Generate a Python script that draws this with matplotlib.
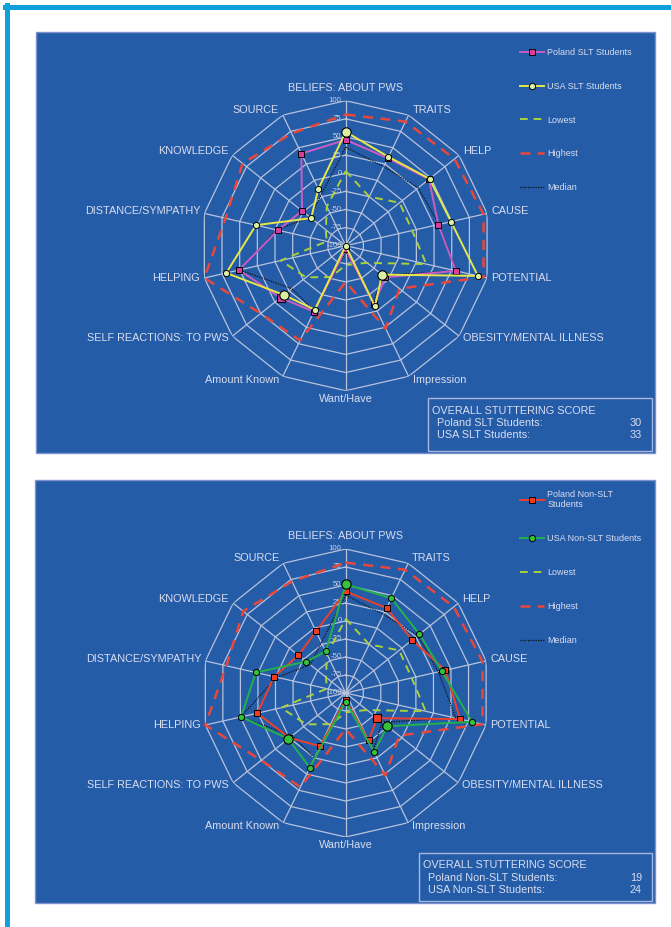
import numpy as np
import matplotlib
matplotlib.use("Agg")
import matplotlib.pyplot as plt
from matplotlib.lines import Line2D
from matplotlib.patches import Rectangle

plt.rcParams["font.family"] = ["Liberation Sans", "DejaVu Sans"]

# ---------------- data ----------------
axis_labels = ["BELIEFS: ABOUT PWS", "TRAITS", "HELP", "CAUSE", "POTENTIAL",
               "OBESITY/MENTAL ILLNESS", "Impression", "Want/Have", "Amount Known",
               "SELF REACTIONS: TO PWS", "HELPING", "DISTANCE/SYMPATHY",
               "KNOWLEDGE", "SOURCE"]
ring_ticks = [-100, -75, -50, -25, 0, 25, 50, 75, 100]

lowest = [3, -25, -5, -6, 14, -62, -72, -73, -52, -30, -8, -73, -65, -40]
highest = [81, 90, 92, 95, 95, -5, 27, -50, 45, 50, 100, 70, 82, 72]
median = [36, 21, 28, 32, 57, -35, -12, -92, 0, -5, 50, -2, -37, -22]

poland_slt = [46, 34, 47, 31, 56, -30, -10, -95, 1, 15, 51, -4, -23, 41]
usa_slt = [57, 36, 48, 49, 87, -36, -7, -100, -2, 9, 69, 27, -39, -13]
poland_non = [41, 31, 18, 42, 63, -44, -27, -90, -18, 0, 26, 2, -16, -5]
usa_non = [51, 46, 31, 37, 80, -26, -9, -88, 15, 2, 49, 28, -30, -36]

score_title = "OVERALL STUTTERING SCORE"
score_names_slt = ["Poland SLT Students:", "USA SLT Students:"]
score_values_slt = [30, 33]
score_names_non = ["Poland Non-SLT Students:", "USA Non-SLT Students:"]
score_values_non = [19, 24]

legend_slt = ["Poland SLT Students", "USA SLT Students", "Lowest", "Highest", "Median"]
legend_non = ["Poland Non-SLT\nStudents", "USA Non-SLT Students", "Lowest", "Highest", "Median"]

# ---------------- style ----------------
W, H = 671, 927
BLUE = "#245ca8"
TXT = "#d9ddef"
GRID = "#b9c3dc"
CYAN = "#12a0dc"

fig = plt.figure(figsize=(W / 100, H / 100), dpi=100)
fig.patch.set_facecolor("white")


def fx(px):
    return px / W


def fy(py):
    return 1 - py / H


# outer cyan frame (top and left)
fig.add_artist(Line2D([fx(5), 1], [fy(7), fy(7)], color=CYAN, lw=3.6, transform=fig.transFigure))
fig.add_artist(Line2D([fx(7), fx(7)], [fy(5), 0], color=CYAN, lw=3.6, transform=fig.transFigure))

n = len(axis_labels)
theta = np.arange(n) * 2 * np.pi / n
theta_c = np.append(theta, theta[0])


def closed(v):
    return np.append(v, v[0])


def draw_panel(panel_box, center, radius, series, legend_labels, legend_pos,
               box, score_names, score_values, big_marks):
    x0, y0, x1, y1 = panel_box
    fig.add_artist(Rectangle((fx(x0), fy(y1)), fx(x1) - fx(x0), fy(y0) - fy(y1),
                             transform=fig.transFigure, facecolor=BLUE,
                             edgecolor="#7d92cc", lw=1.0, zorder=0))
    cx, cy = center
    ax = fig.add_axes([fx(cx - radius), fy(cy + radius), 2 * radius / W, 2 * radius / H],
                      projection="polar")
    ax.set_theta_zero_location("N")
    ax.set_theta_direction(-1)
    ax.set_ylim(ring_ticks[0], ring_ticks[-1])
    ax.set_axis_off()

    # polygon grid
    for lev in ring_ticks[1:]:
        ax.plot(theta_c, [lev] * (n + 1), color=GRID, lw=0.9, zorder=1)
    for t in theta:
        ax.plot([t, t], [ring_ticks[0], ring_ticks[-1]], color=GRID, lw=0.9, zorder=1)
    for lev in ring_ticks:
        ax.annotate(str(lev), xy=(0, lev), xytext=(-4, 0), textcoords="offset pixels",
                    ha="right", va="center", fontsize=5.6, color="#c9cfe3", zorder=2)

    # axis labels
    for t, lab in zip(theta, axis_labels):
        s, c = np.sin(t), np.cos(t)
        if abs(s) < 1e-6:
            ha = "center"
            dx = 0
            dy = 13 if c > 0 else -8
        else:
            ha = "left" if s > 0 else "right"
            dx = 4 if s > 0 else -4
            dy = 1 + 5 * c
        ax.annotate(lab, xy=(t, ring_ticks[-1]), xytext=(dx, dy), textcoords="offset pixels",
                    ha=ha, va="center", fontsize=7.8, color=TXT, annotation_clip=False)

    handles = []
    for (vals, st), big in zip(series, big_marks):
        ln, = ax.plot(theta_c, closed(vals), clip_on=False, **st)
        handles.append(ln)
        if big:
            idx = np.array(big)
            ax.plot(theta[idx], np.array(vals)[idx], ls="none", marker=st.get("marker"),
                    ms=st.get("ms", 4) * 1.5, mfc=st.get("mfc"), mec="black", mew=0.8,
                    zorder=st.get("zorder", 5) + 0.5, clip_on=False)

    order = [3, 4, 0, 1, 2]
    leg = fig.legend([handles[i] for i in order], legend_labels, loc="upper left",
                     bbox_to_anchor=(fx(legend_pos[0]), fy(legend_pos[1])),
                     frameon=False, fontsize=6.5, labelcolor=TXT, handlelength=2.7,
                     handletextpad=0.3, labelspacing=2.75, borderpad=0, borderaxespad=0)
    for tx in leg.get_texts():
        tx.set_multialignment("left")

    bx0, by0, bx1, by1 = box
    fig.add_artist(Rectangle((fx(bx0), fy(by1)), fx(bx1) - fx(bx0), fy(by0) - fy(by1),
                             transform=fig.transFigure, facecolor="none",
                             edgecolor="#a9b6df", lw=1.0, zorder=3))
    fig.text(fx(bx0 + 4), fy(by0 + 12.5), score_title, fontsize=7.8, color=TXT,
             ha="left", va="center")
    for i, (nm, v) in enumerate(zip(score_names, score_values)):
        yy = by0 + 25 + 12 * i
        fig.text(fx(bx0 + 9), fy(yy), nm, fontsize=7.8, color=TXT, ha="left", va="center")
        fig.text(fx(bx1 - 10), fy(yy), str(v), fontsize=7.8, color=TXT, ha="right", va="center")


low_st = dict(color="#a9d23a", lw=1.4, ls=(0, (4, 3)), zorder=3)
high_st = dict(color="#e8473a", lw=1.8, ls=(0, (4, 3)), zorder=3)
med_st = dict(color="#111111", lw=0.9, ls=(0, (1, 1)), zorder=4)

pol_slt_st = dict(color="#cc5cc4", lw=1.4, marker="s", ms=4.0, mfc="#d83c9c", mec="black",
                  mew=0.7, zorder=5)
usa_slt_st = dict(color="#e6e84a", lw=1.4, marker="o", ms=4.5, mfc="#d9efa4", mec="black",
                  mew=0.7, zorder=6)
pol_non_st = dict(color="#ee3f2c", lw=1.4, marker="s", ms=4.0, mfc="#f03a22", mec="black",
                  mew=0.7, zorder=5)
usa_non_st = dict(color="#22b24a", lw=1.4, marker="o", ms=4.5, mfc="#36c13c", mec="black",
                  mew=0.7, zorder=6)

draw_panel((36, 32, 655, 453), (345.7, 245.7), 145,
           [(lowest, low_st), (highest, high_st), (median, med_st),
            (poland_slt, pol_slt_st), (usa_slt, usa_slt_st)],
           legend_slt, (520, 48), (428, 398, 652, 451),
           score_names_slt, score_values_slt,
           [None, None, None, [9], [0, 5, 9]])

draw_panel((35, 480, 655, 903), (345.7, 693.0), 144,
           [(lowest, low_st), (highest, high_st), (median, med_st),
            (poland_non, pol_non_st), (usa_non, usa_non_st)],
           legend_non, (520, 490), (419, 853, 652, 901),
           score_names_non, score_values_non,
           [None, None, None, [5], [0, 5, 9]])

fig.savefig("out.png", dpi=100, facecolor="white")
